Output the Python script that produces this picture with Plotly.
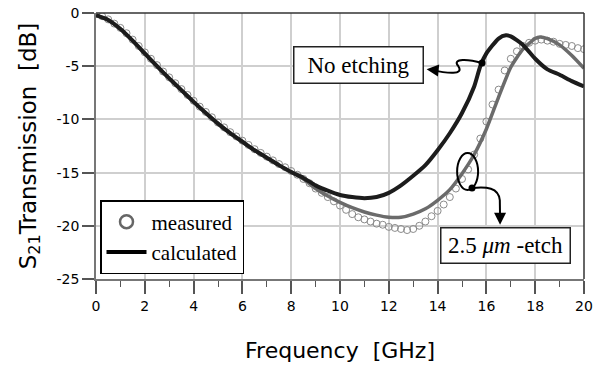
import plotly.graph_objects as go

# ---------------- data ----------------
freq_meas = [i * 0.25 for i in range(81)]
s21_meas = [-0.1, -0.3, -0.6, -1.0, -1.4, -1.9, -2.5, -3.1, -3.7, -4.3,
            -4.9, -5.5, -6.05, -6.6, -7.15, -7.7, -8.25, -8.8, -9.3, -9.8,
            -10.3, -10.75, -11.2, -11.6, -12.0, -12.4, -12.8, -13.15, -13.5, -13.85,
            -14.2, -14.5, -14.85, -15.2, -15.6, -16.0, -16.5, -16.9, -17.3, -17.7,
            -18.1, -18.5, -18.9, -19.2, -19.4, -19.6, -19.8, -19.9, -20.1, -20.2,
            -20.3, -20.4, -20.3, -20.0, -19.6, -19.1, -18.6, -18.0, -17.3, -16.5,
            -15.6, -14.7, -13.3, -11.8, -10.2, -8.6, -7.2, -5.4, -4.3, -3.6,
            -3.1, -2.8, -2.6, -2.5, -2.6, -2.7, -2.9, -3.0, -3.1, -3.3, -3.4]

freq_common = [0, 0.5, 1.0, 1.5, 2.0, 2.5, 3.0, 3.5, 4.0, 4.5, 5.0, 5.5, 6.0,
               6.5, 7.0, 7.5, 8.0]
s21_common = [-0.2, -0.65, -1.5, -2.6, -3.8, -5.0, -6.15, -7.25, -8.35, -9.4,
              -10.4, -11.3, -12.1, -12.9, -13.6, -14.3, -14.95]

freq_noetch = freq_common + [8.5, 9.0, 9.5, 10.0, 10.5, 11.0, 11.5, 12.0, 12.5,
                             13.0, 13.5, 14.0, 14.5, 15.0, 15.5, 15.75, 16.0,
                             16.5, 16.8, 17.0, 17.5, 18.0, 18.5, 19.0, 19.5, 20.0]
s21_noetch = s21_common + [-15.5, -16.2, -16.7, -17.1, -17.3, -17.4, -17.3, -16.9,
                           -16.2, -15.3, -14.3, -12.9, -11.3, -9.4, -6.9, -5.0,
                           -3.8, -2.4, -2.1, -2.2, -3.0, -4.3, -5.3, -5.8, -6.4, -6.9]

freq_etch = freq_common + [8.5, 9.0, 9.5, 10.0, 10.5, 11.0, 11.5, 12.0, 12.5,
                           13.0, 13.5, 14.0, 14.5, 15.0, 15.5, 16.0, 16.5, 17.0,
                           17.5, 18.0, 18.2, 18.5, 19.0, 19.5, 20.0]
s21_etch = s21_common + [-15.6, -16.5, -17.2, -17.8, -18.3, -18.7, -19.0, -19.2,
                         -19.2, -18.9, -18.4, -17.6, -16.6, -15.1, -13.3, -10.9,
                         -7.9, -5.1, -3.4, -2.4, -2.25, -2.4, -3.0, -4.0, -5.2]

x_ticks = [0, 2, 4, 6, 8, 10, 12, 14, 16, 18, 20]
y_ticks = [0, -5, -10, -15, -20, -25]

SERIF = "Liberation Serif"
SANS = "DejaVu Sans"

fig = go.Figure()

fig.add_trace(go.Scatter(
    x=freq_meas, y=s21_meas, mode="markers", showlegend=False,
    marker=dict(symbol="circle-open", size=7, color="#8a8a8a",
                line=dict(width=1, color="#8a8a8a"))))
fig.add_trace(go.Scatter(
    x=freq_etch, y=s21_etch, mode="lines", showlegend=False,
    line=dict(color="#6b6b6b", width=3.5, shape="spline", smoothing=0.6)))
fig.add_trace(go.Scatter(
    x=freq_noetch, y=s21_noetch, mode="lines", showlegend=False,
    line=dict(color="#1c1c1c", width=4, shape="spline", smoothing=0.6)))

# legend-only entries
fig.add_trace(go.Scatter(
    x=[None], y=[None], mode="markers", name="measured",
    marker=dict(symbol="circle-open", size=13, color="#666666",
                line=dict(width=2.5, color="#666666"))))
fig.add_trace(go.Scatter(
    x=[None], y=[None], mode="lines", name="calculated",
    line=dict(color="black", width=4)))

# dots at the curve anchor points
fig.add_trace(go.Scatter(x=[15.82, 15.41], y=[-4.7, -16.45], mode="markers",
                         showlegend=False, marker=dict(size=7, color="black")))

shapes = [
    # top and right frame
    dict(type="line", xref="paper", yref="paper", x0=0, x1=1, y0=1, y1=1,
         line=dict(color="#333333", width=1.5)),
    dict(type="line", xref="paper", yref="paper", x0=1, x1=1, y0=0, y1=1,
         line=dict(color="#333333", width=1.5)),
    # squiggle to "No etching"
    dict(type="path", xref="x", yref="y",
         path="M 15.82,-4.7 C 15.3,-4.35 14.55,-4.2 14.85,-5.0 C 15.1,-5.85 14.4,-5.7 13.75,-5.32",
         line=dict(color="black", width=2)),
    # ellipse around measured/etch curves
    dict(type="circle", xref="x", yref="y", x0=14.80, x1=15.66, y0=-13.16, y1=-16.64,
         line=dict(color="black", width=2)),
    # squiggle to "2.5 um -etch"
    dict(type="path", xref="x", yref="y",
         path="M 15.41,-16.45 C 16.0,-16.3 16.5,-16.4 16.55,-17.6 L 16.56,-19.2",
         line=dict(color="black", width=2)),
]

annotations = [
    dict(x=13.55, y=-5.28, ax=13.95, ay=-5.38, xref="x", yref="y", axref="x", ayref="y",
         text="", showarrow=True, arrowhead=2, arrowsize=1.2, arrowwidth=2, arrowcolor="black"),
    dict(x=16.56, y=-19.9, ax=16.56, ay=-19.0, xref="x", yref="y", axref="x", ayref="y",
         text="", showarrow=True, arrowhead=2, arrowsize=1.2, arrowwidth=2, arrowcolor="black"),
    dict(x=(358 - 96) / 488, y=1 - (65 - 13) / 266, xref="paper", yref="paper",
         text="No etching", showarrow=False, xanchor="center", yanchor="middle",
         width=122, height=29, align="center",
         font=dict(family=SERIF, size=23, color="black"),
         bgcolor="white", bordercolor="#222222", borderwidth=1.5, borderpad=3),
    dict(x=(505 - 96) / 488, y=1 - (245.5 - 13) / 266, xref="paper", yref="paper",
         text="2.5 <i>μm</i> -etch", showarrow=False, xanchor="center", yanchor="middle",
         width=122, height=28, align="center",
         font=dict(family=SERIF, size=23, color="black"),
         bgcolor="white", bordercolor="#222222", borderwidth=1.5, borderpad=3),
]

fig.update_layout(
    width=605, height=365,
    margin=dict(l=96, r=21, t=13, b=86, autoexpand=False),
    plot_bgcolor="white", paper_bgcolor="white",
    shapes=shapes, annotations=annotations,
    legend=dict(x=(100 - 96) / 488, y=(279 - 274) / 266, xanchor="left", yanchor="bottom",
                bgcolor="white", bordercolor="black", borderwidth=1.5,
                font=dict(family=SERIF, size=21, color="black"),
                tracegroupgap=0, itemwidth=40),
)

fig.update_xaxes(
    range=[0, 20], tickvals=x_ticks, ticktext=[str(v) for v in x_ticks],
    automargin=False,
    showgrid=True, gridcolor="#cfcfcf", gridwidth=1.5,
    showline=True, linecolor="#777777", linewidth=1.5,
    ticks="outside", ticklen=13, tickwidth=1.5, tickcolor="#555555",
    minor=dict(dtick=1, tick0=0, ticks="outside", ticklen=6, tickwidth=1.2,
               tickcolor="#555555", showgrid=False),
    tickfont=dict(family=SANS, size=14, color="black"),
    title=dict(text="Frequency\u00a0\u00a0[GHz]", font=dict(family=SANS, size=22, color="black"),
               standoff=30),
    zeroline=False,
)
fig.update_yaxes(
    range=[-25, 0], tickvals=y_ticks, ticktext=[str(v) for v in y_ticks],
    automargin=False,
    showgrid=True, gridcolor="#cfcfcf", gridwidth=1.5,
    showline=True, linecolor="#777777", linewidth=1.5,
    ticks="outside", ticklen=12, tickwidth=1.5, tickcolor="#555555",
    tickfont=dict(family=SANS, size=14, color="black"),
    title=dict(text="S<sub>21</sub>Transmission\u00a0\u00a0[dB]",
               font=dict(family=SANS, size=23, color="black"), standoff=14),
    zeroline=False,
)

fig.write_html("out.html", config={"displayModeBar": False},
               post_script="document.body.style.margin='0';document.body.style.padding='0';")
